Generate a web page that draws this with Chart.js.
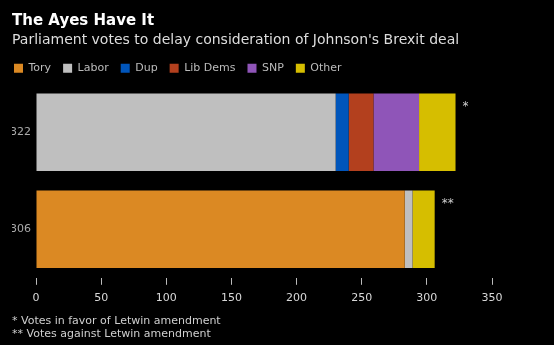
<!DOCTYPE html>
<html>
<head>
<meta charset="utf-8">
<script src="https://cdn.jsdelivr.net/npm/chart.js@4"></script>
<style>
html,body{margin:0;padding:0;background:#000;}
#wrap{width:554px;height:345px;position:relative;}
</style>
</head>
<body>
<div id="wrap"><canvas id="c" width="554" height="345"></canvas></div>
<script>
const categories = ['322', '306'];
const markers = ['*', '**'];
const parties = ['Tory', 'Labor', 'Dup', 'Lib Dems', 'SNP', 'Other'];
const tory = [0, 283];
const labor = [230, 6];
const dup = [10, 0];
const libDems = [19, 0];
const snp = [35, 0];
const other = [28, 17];
const xTicks = [0, 50, 100, 150, 200, 250, 300, 350];
const footnotes = ['* Votes in favor of Letwin amendment', '** Votes against Letwin amendment'];

const colors = ['#db8923', '#bfbfbf', '#0055bb', '#b3401e', '#8f55b8', '#d6be00'];
const series = [tory, labor, dup, libDems, snp, other];

const FONT = '"DejaVu Sans", sans-serif';

const annot = {
  id: 'annot',
  afterLayout(chart) {
    if (chart.legend) chart.legend.left = 2;
  },
  afterDatasetsDraw(chart) {
    const ctx = chart.ctx;
    ctx.save();
    ctx.fillStyle = '#cfcfcf';
    ctx.font = '12px ' + FONT;
    ctx.textBaseline = 'top';
    categories.forEach((c, i) => {
      let maxX = -Infinity, top = 0;
      chart.data.datasets.forEach((ds, di) => {
        const el = chart.getDatasetMeta(di).data[i];
        if (ds.data[i] > 0 && el.x > maxX) { maxX = el.x; top = el.y - el.height / 2; }
      });
      ctx.fillText(markers[i], maxX + 7, top + 7);
    });
    ctx.font = '11px ' + FONT;
    ctx.fillStyle = '#cfcfcf';
    ctx.textBaseline = 'middle';
    ctx.fillText(footnotes[0], 12, 321);
    ctx.fillText(footnotes[1], 12, 334);
    ctx.restore();
  }
};

new Chart(document.getElementById('c'), {
  type: 'bar',
  data: {
    labels: categories,
    datasets: parties.map((p, i) => ({
      label: p,
      data: series[i],
      backgroundColor: colors[i],
      borderWidth: 0,
      barPercentage: 0.8,
      categoryPercentage: 1.0
    }))
  },
  options: {
    indexAxis: 'y',
    responsive: false,
    animation: false,
    layout: { padding: { left: 12, right: 62, top: 8, bottom: 33 } },
    scales: {
      x: {
        stacked: true,
        min: 0, max: 350,
        afterBuildTicks(axis) { axis.ticks = xTicks.map(v => ({ value: v })); },
        ticks: { color: '#d8d8d8', font: { size: 11, family: FONT }, padding: 7 },
        grid: { drawOnChartArea: false, drawTicks: true, tickLength: 7, color: '#bbbbbb' },
        border: { display: false }
      },
      y: {
        stacked: true,
        afterFit(axis) { axis.width = 24; },
        ticks: { color: '#aaaaaa', font: { size: 11, family: FONT }, padding: 5 },
        grid: { display: false, drawTicks: false, tickLength: 0 },
        border: { display: false }
      }
    },
    plugins: {
      title: {
        display: true, text: 'The Ayes Have It', align: 'start', color: '#ffffff',
        font: { size: 15, weight: 'bold', family: FONT }, padding: { top: 4, bottom: 0 }
      },
      subtitle: {
        display: true, text: "Parliament votes to delay consideration of Johnson's Brexit deal",
        align: 'start', color: '#dddddd',
        font: { size: 14, family: FONT }, padding: { top: 2, bottom: 2 }
      },
      legend: {
        align: 'start',
        labels: {
          color: '#bbbbbb', boxWidth: 9, boxHeight: 9, padding: 12,
          font: { size: 11, family: FONT }
        }
      },
      tooltip: { enabled: false }
    }
  },
  plugins: [annot]
});
</script>
</body>
</html>
